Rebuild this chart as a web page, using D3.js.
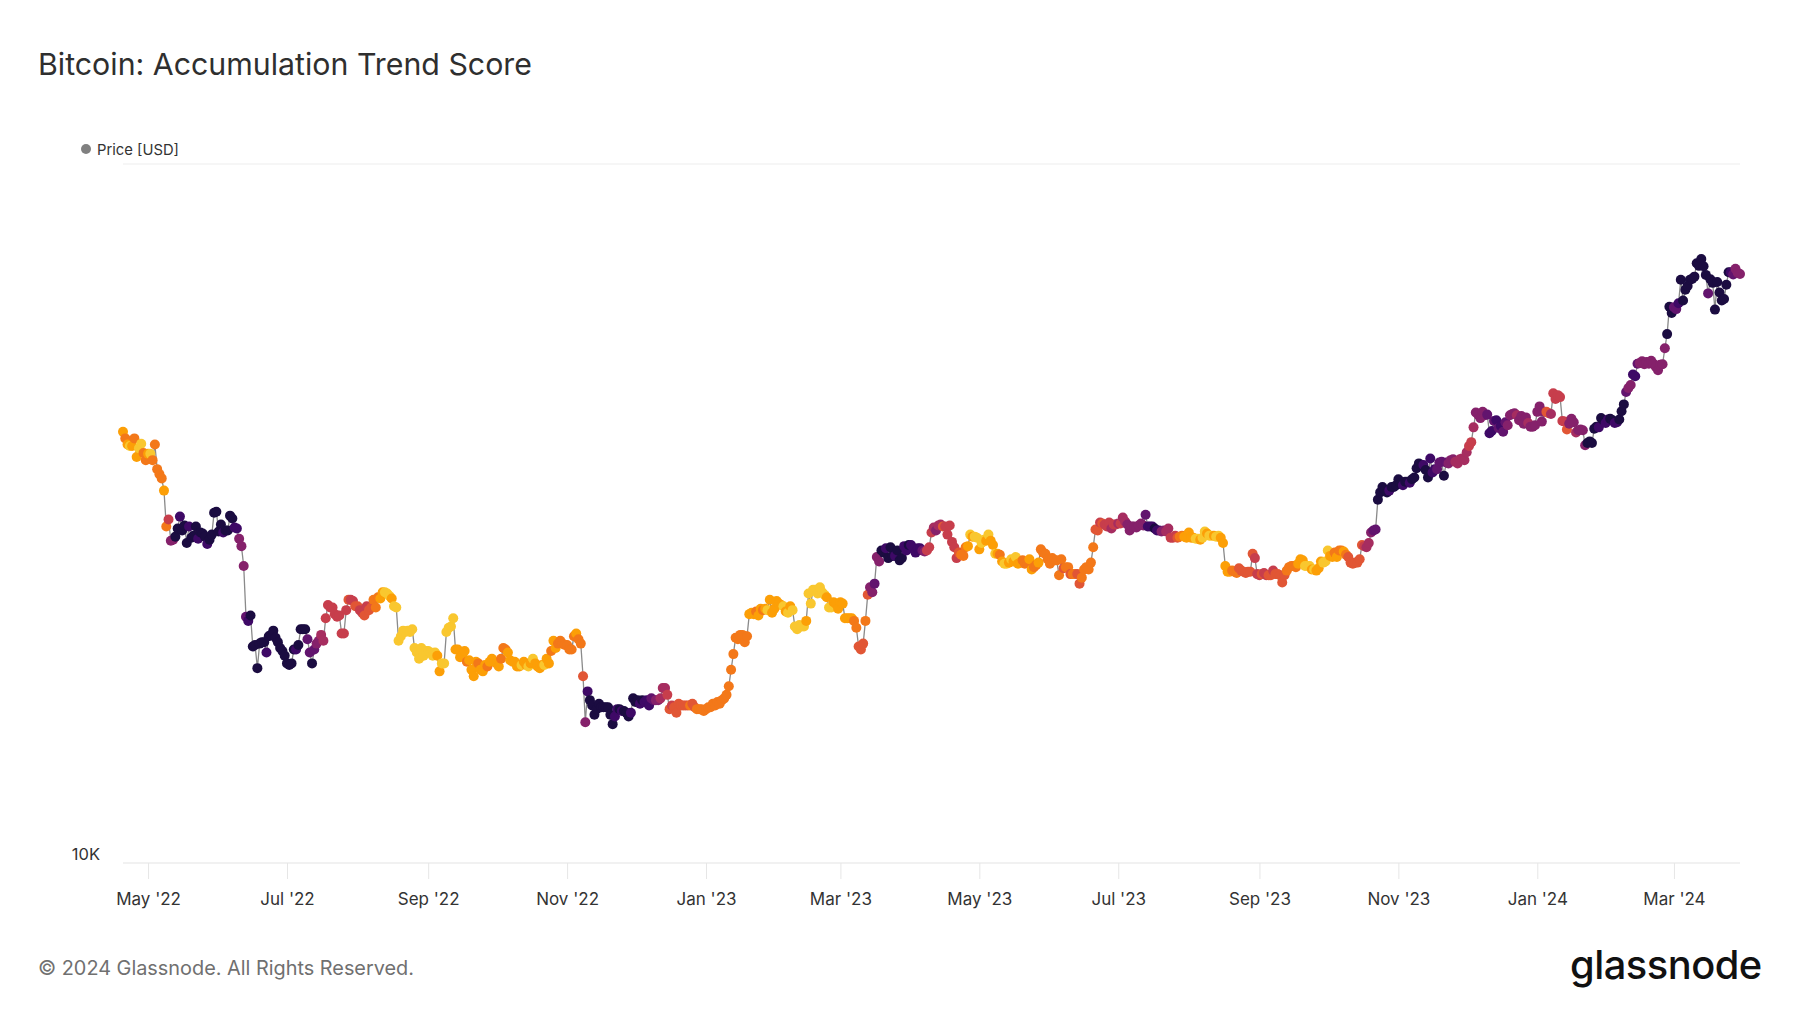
<!DOCTYPE html>
<html>
<head>
<meta charset="utf-8">
<script src="https://cdn.jsdelivr.net/npm/d3@7"></script>
<style>
html,body{margin:0;padding:0;background:#fff;}
svg{display:block;font-family:Inter,"Noto Sans",sans-serif;}
</style>
</head>
<body>
<svg id="chart" width="1800" height="1013"></svg>
<script>
// ---------------- DATA ----------------
const startDate = "2022-04-20";   // first daily point
const endDate = "2024-03-30";     // last daily point

// Daily BTC price, thousands of USD, month by month
const prices = [
  // Apr 2022 (20-30)
  41.4,40.5,39.7,39.5,39.5,40.5,38.1,39.2,39.8,38.6,37.7,
  // May 2022
  38.5,38.5,37.7,39.7,36.6,36.0,35.5,34.1,30.3,31.0,28.9,29.0,29.3,30.1,31.3,29.9,30.4,28.7,30.3,29.2,29.4,30.3,29.1,29.7,29.6,29.3,28.6,29.0,29.5,31.7,31.8,
  // Jun 2022
  29.8,30.5,29.7,29.9,29.9,31.4,31.1,30.2,30.1,29.1,28.4,26.6,22.5,22.2,22.6,20.4,20.5,19.0,20.6,20.7,20.7,20.0,21.1,21.2,21.5,21.0,20.7,20.3,20.1,19.8,
  // Jul 2022
  19.3,19.2,19.3,20.2,20.2,20.5,21.6,21.6,21.6,20.9,20.0,19.3,20.2,20.6,20.8,21.2,20.8,22.4,23.4,23.2,23.2,22.7,22.5,22.6,21.3,21.3,23.0,23.8,23.8,23.7,23.3,
  // Aug 2022
  23.3,23.0,22.8,22.6,23.3,23.0,23.2,23.8,23.2,24.0,23.9,24.4,24.4,24.3,24.1,23.9,23.3,23.2,20.8,21.1,21.5,21.4,21.5,21.4,21.6,20.3,20.0,19.6,20.3,19.8,20.1,
  // Sep 2022
  20.1,20.0,19.8,20.0,19.8,18.8,19.3,19.3,21.4,21.7,21.8,22.4,20.2,20.2,19.7,19.8,20.1,19.4,19.5,18.9,18.5,19.4,19.3,18.9,18.8,19.2,19.1,19.4,19.6,19.4,
  // Oct 2022
  19.3,19.1,19.6,20.3,20.2,20.0,19.5,19.4,19.4,19.1,19.1,19.2,19.4,19.2,19.1,19.3,19.6,19.3,19.1,19.0,19.2,19.2,19.6,19.3,20.1,20.8,20.3,20.6,20.8,20.6,20.5,
  // Nov 2022
  20.5,20.2,20.2,21.1,21.3,20.9,20.6,18.5,15.9,17.6,17.1,16.8,16.3,16.6,16.9,16.7,16.7,16.7,16.7,16.3,15.8,16.2,16.6,16.6,16.5,16.5,16.4,16.2,16.4,17.2,
  // Dec 2022
  17.0,17.1,16.9,17.1,17.0,17.1,16.8,17.2,17.1,17.1,17.1,17.2,17.8,17.8,17.4,16.6,16.8,16.7,16.4,16.9,16.8,16.8,16.8,16.8,16.8,16.9,16.7,16.6,16.6,16.6,16.5,
  // Jan 2023
  16.6,16.7,16.7,16.9,16.8,17.0,16.9,17.1,17.2,17.4,17.9,18.9,19.9,21.0,20.9,21.2,21.2,20.7,21.1,22.7,22.8,22.7,22.9,22.6,23.1,23.0,23.1,23.0,23.8,22.8,23.1,
  // Feb 2023
  23.7,23.5,23.4,23.3,22.9,22.8,23.3,23.0,21.8,21.6,21.9,21.8,21.8,22.2,24.3,23.5,24.6,24.6,24.3,24.8,24.4,24.2,24.0,23.2,23.2,23.6,23.5,23.1,
  // Mar 2023
  23.6,23.5,22.4,22.4,22.4,22.4,22.2,21.7,20.4,20.2,20.6,22.2,24.2,24.8,24.4,25.1,27.4,27.0,28.0,27.8,28.2,27.3,28.3,27.5,27.5,28.0,27.1,27.3,28.4,28.0,28.5,
  // Apr 2023
  28.5,28.2,27.8,28.2,28.2,28.0,27.9,28.0,28.3,29.7,30.2,29.9,30.4,30.5,30.3,30.3,29.5,30.4,28.8,28.3,27.3,27.8,27.6,27.5,28.3,28.4,29.5,29.3,29.3,29.2,
  // May 2023
  28.1,28.7,29.0,28.9,29.5,28.9,28.5,27.7,27.7,27.6,27.0,26.8,26.8,26.9,27.2,27.0,27.4,26.8,26.9,27.1,26.8,26.9,27.2,26.3,26.5,26.7,26.9,28.1,27.8,27.7,27.2,
  // Jun 2023
  26.8,27.3,27.1,27.1,25.8,27.2,26.4,26.5,26.5,25.9,25.9,25.9,25.9,25.1,25.6,26.3,26.5,26.3,26.9,28.3,30.0,29.9,30.7,30.6,30.5,30.3,30.7,30.1,30.5,30.5,
  // Jul 2023
  30.6,30.6,31.2,30.8,30.5,29.9,30.3,30.3,30.2,30.4,30.6,30.4,31.5,30.3,30.3,30.3,30.1,29.9,29.9,29.8,29.9,29.8,30.1,29.2,29.2,29.4,29.2,29.3,29.4,29.3,29.2,
  // Aug 2023
  29.7,29.2,29.2,29.1,29.1,29.0,29.2,29.8,29.6,29.4,29.4,29.4,29.3,29.4,29.2,28.7,26.6,26.1,26.1,26.2,26.1,26.0,26.4,26.2,26.1,26.0,26.1,26.1,27.7,27.3,25.9,
  // Sep 2023
  25.8,25.9,26.0,25.8,25.8,25.8,26.2,25.9,25.9,25.8,25.2,25.8,26.2,26.5,26.6,26.6,26.5,26.8,27.2,27.1,26.6,26.6,26.6,26.3,26.3,26.2,26.4,27.0,26.9,27.0,
  // Oct 2023
  28.0,27.5,27.4,27.8,27.4,28.0,28.0,27.9,27.6,27.4,26.9,26.8,26.9,26.9,27.2,28.5,28.4,28.3,28.7,29.7,29.9,30.0,33.1,33.9,34.5,34.2,33.9,34.1,34.5,34.5,34.7,
  // Nov 2023
  35.4,34.9,34.7,35.1,35.1,35.0,35.4,35.6,36.7,37.3,37.1,37.1,36.5,35.6,37.9,36.2,36.6,36.6,37.4,37.5,35.8,37.4,37.3,37.7,37.8,37.5,37.3,37.8,37.9,37.7,
  // Dec 2023
  38.7,39.5,40.0,42.0,44.1,43.8,43.3,44.2,43.7,43.8,41.2,41.5,42.9,43.0,41.9,42.2,41.4,42.7,42.3,43.7,43.9,44.0,43.7,43.0,43.6,42.5,43.4,42.6,42.1,42.1,42.3,
  // Jan 2024
  44.2,45.0,42.8,44.2,44.2,44.0,43.9,47.0,46.1,46.7,46.4,42.9,42.8,41.7,42.5,43.2,42.7,41.3,41.6,41.7,41.6,39.6,39.9,40.1,39.9,41.8,42.1,42.0,43.3,43.0,42.6,
  // Feb 2024
  43.1,43.2,43.0,42.6,42.7,43.1,44.3,45.3,47.2,47.8,48.3,50.0,49.7,51.8,51.9,52.2,51.7,52.1,51.8,52.3,51.8,51.3,50.7,51.6,51.7,54.5,57.1,62.5,61.2,
  // Mar 2024 (1-30)
  62.4,62.0,63.2,68.3,63.8,66.1,66.9,68.3,68.5,69.0,72.1,71.5,73.1,71.4,69.4,65.3,68.4,67.6,61.9,67.8,65.5,63.8,64.1,67.2,70.0,70.0,69.5,70.8,69.9,69.6
];

// Daily accumulation trend score, 0 (distribution) .. 9 (strong accumulation)
const scores = [
  // Apr 2022
  1,2,1,0,1,2,1,0,0,2,2,
  // May 2022
  1,0,2,2,2,2,2,1,2,4,6,6,9,9,8,9,9,9,8,9,9,9,8,9,9,9,8,9,9,9,9,
  // Jun 2022
  9,9,8,9,9,9,9,8,8,6,6,6,7,8,9,9,9,9,9,9,9,8,9,9,9,9,9,9,9,9,
  // Jul 2022
  9,9,9,9,8,9,9,9,9,7,7,9,7,6,6,5,5,4,4,4,4,4,4,4,4,4,4,3,4,4,3,
  // Aug 2022
  3,4,4,3,4,3,3,2,2,2,1,1,0,0,0,1,0,0,0,0,0,0,0,0,0,0,0,0,0,0,0,
  // Sep 2022
  0,0,0,0,1,1,0,0,0,0,0,0,1,1,1,1,1,2,1,1,1,1,2,1,1,1,2,1,1,1,
  // Oct 2022
  1,1,2,2,2,1,1,1,1,1,1,0,1,1,0,1,0,1,1,1,1,0,1,1,2,1,1,2,2,2,2,
  // Nov 2022
  2,2,2,2,1,2,2,3,6,8,9,9,9,9,9,9,9,9,9,9,9,8,8,9,8,9,9,9,8,9,
  // Dec 2022
  9,9,8,9,8,8,8,7,7,6,6,5,5,5,4,3,4,3,3,3,3,3,3,3,2,3,3,2,2,2,2,
  // Jan 2023
  2,2,2,2,2,2,2,2,2,2,2,2,2,2,2,2,2,2,2,1,1,1,2,1,1,2,1,0,1,1,1,
  // Feb 2023
  1,1,1,0,1,0,1,0,0,0,0,0,0,1,0,0,0,0,0,0,0,0,1,0,0,1,1,1,
  // Mar 2023
  1,1,1,1,1,1,2,2,3,3,3,2,3,6,6,7,6,6,9,9,8,9,9,9,8,9,9,9,8,8,9,
  // Apr 2023
  8,8,8,8,8,7,6,4,4,4,5,6,5,5,3,4,4,4,4,4,4,3,2,2,2,1,0,1,0,0,
  // May 2023
  1,0,0,1,0,1,1,0,1,2,1,0,0,1,0,1,0,1,1,2,2,2,1,1,2,2,1,2,2,2,2,
  // Jun 2023
  2,2,2,2,2,2,3,2,2,3,2,2,3,3,2,2,2,2,2,2,3,3,4,3,4,4,4,5,4,4,
  // Jul 2023
  5,4,5,5,6,6,6,6,6,6,6,6,7,8,8,8,9,8,8,6,6,5,5,4,4,4,3,2,2,1,1,
  // Aug 2023
  1,1,1,0,0,1,0,0,1,0,0,1,0,0,1,1,1,1,1,2,2,2,3,3,3,3,3,3,3,4,4,
  // Sep 2023
  4,3,4,4,3,3,4,3,3,3,3,3,2,2,2,2,2,1,1,1,0,0,0,1,0,1,1,1,0,0,
  // Oct 2023
  0,1,1,2,1,2,2,1,2,3,3,3,3,3,3,3,4,5,5,6,7,7,9,9,9,9,9,8,9,9,9,
  // Nov 2023
  9,9,8,9,9,8,9,9,9,9,9,8,9,9,8,8,8,7,7,7,9,7,6,6,6,5,5,5,5,5,
  // Dec 2023
  5,4,4,5,6,6,6,6,6,7,8,8,7,8,7,8,7,7,6,6,6,6,5,6,6,6,6,5,6,6,6,
  // Jan 2024
  6,6,6,6,3,3,5,4,4,4,4,4,4,3,6,6,6,5,6,6,6,6,9,9,9,9,9,8,9,9,8,
  // Feb 2024
  8,9,9,8,8,9,9,9,7,6,6,8,8,7,6,6,6,6,6,6,6,6,6,6,6,6,9,9,9,
  // Mar 2024
  7,7,8,9,9,9,9,9,9,9,9,9,9,9,9,7,9,9,9,9,9,9,9,9,9,8,7,6,6,6
];

const yTickValues = [10000, 100000];
const yTickLabels = ["10K", ""];
const titleText = "Bitcoin: Accumulation Trend Score";
const legendText = "Price [USD]";
const footerText = "© 2024 Glassnode. All Rights Reserved.";
const logoText = "glassnode";

// ---------------- CHART ----------------
const svg = d3.select("#chart");
const parse = d3.utcParse("%Y-%m-%d");
const t0 = parse(startDate);
const data = prices.map((p, i) => ({
  date: d3.utcDay.offset(t0, i),
  price: p * 1000,
  score: scores[i]
}));

const plot = {left: 123, right: 1740, top: 164, bottom: 863};

const x = d3.scaleUtc()
  .domain([t0, parse(endDate)])
  .range([plot.left, plot.right]);
const y = d3.scaleLog()
  .domain([10000, 100000])
  .range([plot.bottom, plot.top]);
const color = s => d3.interpolateInferno(0.11 + (9 - s) / 9 * 0.76);

function fit(sel, w) {
  const n = sel.node();
  const fs = parseFloat(sel.attr("font-size"));
  const len = n.getComputedTextLength();
  if (len > 0) sel.attr("font-size", (fs * w / len).toFixed(2));
}

// Title
const title = svg.append("text")
  .attr("x", 38).attr("y", 75)
  .attr("font-size", 30).attr("fill", "#2f2f2f")
  .text(titleText);
fit(title, 494);

// Legend
svg.append("circle").attr("cx", 86).attr("cy", 149).attr("r", 5).attr("fill", "#808080");
const leg = svg.append("text")
  .attr("x", 97).attr("y", 154.5)
  .attr("font-size", 15).attr("fill", "#333")
  .text(legendText);
fit(leg, 82);

// Gridlines (log ticks)
svg.append("g").selectAll("line")
  .data(yTickValues)
  .join("line")
  .attr("x1", plot.left).attr("x2", plot.right)
  .attr("y1", d => y(d)).attr("y2", d => y(d))
  .attr("stroke", d => d === 10000 ? "#e3e3e3" : "#eeeeee")
  .attr("stroke-width", 1.2);

svg.append("g").selectAll("text")
  .data(yTickValues)
  .join("text")
  .attr("x", 100).attr("y", d => y(d) - 3)
  .attr("text-anchor", "end")
  .attr("font-size", 16.5).attr("fill", "#333")
  .text((d, i) => yTickLabels[i]);

// X axis
const xAxis = d3.axisBottom(x)
  .ticks(d3.utcMonth.every(2))
  .tickFormat(d3.utcFormat("%b '%y"))
  .tickSize(16)
  .tickPadding(10);
const gx = svg.append("g")
  .attr("transform", `translate(0,${plot.bottom})`)
  .call(xAxis);
gx.select(".domain").remove();
gx.selectAll(".tick line").attr("stroke", "#e6e6e6").attr("stroke-width", 1);
gx.selectAll(".tick text")
  .attr("font-family", "Inter, 'Noto Sans', sans-serif")
  .attr("font-size", 17).attr("fill", "#333")
  .attr("dy", "0.95em");

// Price line
svg.append("path")
  .datum(data)
  .attr("fill", "none")
  .attr("stroke", "#8a8a8a")
  .attr("stroke-width", 1.3)
  .attr("d", d3.line().x(d => x(d.date)).y(d => y(d.price)));

// Dots coloured by score
svg.append("g").selectAll("circle")
  .data(data)
  .join("circle")
  .attr("cx", d => x(d.date))
  .attr("cy", d => y(d.price))
  .attr("r", 5)
  .attr("fill", d => color(d.score));

// Footer
const foot = svg.append("text")
  .attr("x", 38).attr("y", 975)
  .attr("font-size", 20).attr("fill", "#707070")
  .text(footerText);
fit(foot, 376);

const logo = svg.append("text")
  .attr("x", 1570).attr("y", 979)
  .attr("font-size", 42).attr("font-weight", 500).attr("fill", "#111")
  .attr("letter-spacing", "-0.5")
  .text(logoText);
fit(logo, 192);
</script>
</body>
</html>
